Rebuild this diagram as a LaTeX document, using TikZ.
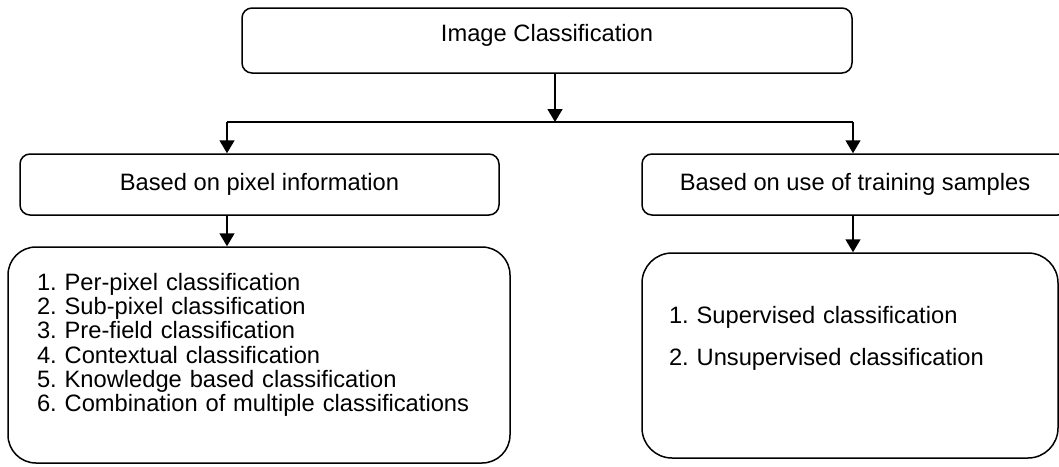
\documentclass[tikz,border=0pt]{standalone}
\usepackage{fontspec}
\setmainfont{Liberation Sans}
\usetikzlibrary{arrows.meta,positioning}
\newcommand{\clsfont}{\fontsize{11.85pt}{12.1pt}\selectfont\frenchspacing}
\tikzset{
  box/.style={
    draw,
    line width=0.75pt,
    rounded corners=5pt,
    align=center,
    inner sep=0pt,
    font=\clsfont
  },
  listbox/.style={
    draw,
    line width=0.75pt,
    rounded corners=14pt,
    align=left,
    inner sep=0pt,
    text height=9pt,
    font=\clsfont
  },
  link/.style={line width=0.75pt},
  arrow/.style={-{Triangle[length=6.5pt,width=7.5pt]}, line width=0.75pt}
}

\begin{document}
\begin{tikzpicture}[x=0.5pt,y=-0.5pt]
  \useasboundingbox (0,0) rectangle (1059,466);
  \clip (0,0) rectangle (1059,466);

  \node[box, minimum width=305pt, minimum height=32.5pt, text height=9pt, text depth=8pt] (imgcls) at (547,40.5) {Image Classification};
  \node[box, minimum width=239.5pt, minimum height=30.5pt] (pixel) at (259.5,184.5) {Based on pixel information};
  \node[box, minimum width=213pt, minimum height=30.5pt] (training) at (855,184.5) {Based on use of training samples};
  \node[listbox, minimum width=251pt, minimum height=108pt, text width=222pt, text depth=73.5pt] (pixlist) at (259,355) {1. Per-pixel classification\\
    2. Sub-pixel classification\\
    3. Pre-field classification\\
    4. Contextual classification\\
    5. Knowledge based classification\\
    6. Combination of multiple classifications};
  \node[listbox, minimum width=208pt, minimum height=102.5pt, rounded corners=15pt, text width=181pt, text depth=41pt,
    font=\fontsize{11.85pt}{21pt}\selectfont\frenchspacing] (trainlist) at (850,355.5) {1. Supervised classification\\
    2. Unsupervised classification};

  \coordinate (split) at (555,122);
  \coordinate (leftdrop) at (227,122);
  \coordinate (rightdrop) at (853,122);

  \draw[arrow] (imgcls.south -| split) -- (split);
  \draw[link] (leftdrop) -- (rightdrop);
  \draw[arrow] (leftdrop) -- (leftdrop |- pixel.north);
  \draw[arrow] (rightdrop) -- (rightdrop |- training.north);
  \draw[arrow] (leftdrop |- pixel.south) -- (leftdrop |- pixlist.north);
  \draw[arrow] (rightdrop |- training.south) -- (rightdrop |- trainlist.north);
\end{tikzpicture}
\end{document}
